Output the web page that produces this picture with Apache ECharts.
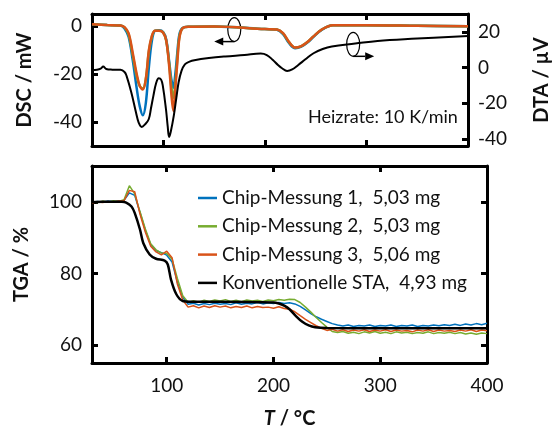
<!DOCTYPE html>
<html>
<head>
<meta charset="utf-8">
<script src="https://cdn.jsdelivr.net/npm/echarts@6/dist/echarts.min.js"></script>
<style>
html, body { margin: 0; padding: 0; background: #fff; }
#chart { width: 560px; height: 430px; }
</style>
</head>
<body>
<div id="chart"></div>
<script>
// series names (legend)
const names = ['Chip-Messung 1,  5,03 mg', 'Chip-Messung 2,  5,03 mg', 'Chip-Messung 3,  5,06 mg', 'Konventionelle STA,  4,93 mg']
const colors = ['#0072BD', '#77AC30', '#D95319', '#000000']

// axis ticks
const tempTicks = [100, 200, 300, 400]
const dscTicks = [-40, -20, 0]
const dtaTicks = [-40, -20, 0, 20]
const tgaTicks = [60, 80, 100]

// DSC of the chip measurements (mW)
const dscT = [30, 45, 58, 62, 66, 70, 74, 77, 80, 83, 86, 89, 92, 96, 100, 103, 106, 108, 110, 112, 114, 116, 119, 125, 150, 200, 212, 218, 224, 230, 236, 242, 248, 256, 267, 300, 350, 400]
const dsc1 = [0.7, 0.4, 0.2, -1, -4.5, -14, -26, -33.5, -37.2, -32, -17, -6, -2, -1.8, -2.5, -5.5, -15, -22, -25.8, -20, -11, -3.5, -0.8, -0.3, -0.2, -1.3, -1.6, -3.4, -7.2, -9.3, -8.6, -6.9, -4.5, -1.6, 0.3, 0.3, 0.1, -0.1]
const dsc2 = [0.7, 0.4, 0.2, -0.6, -3.5, -12, -21, -25, -26, -22, -10.5, -4.3, -2, -2, -2.7, -6, -16, -25, -30, -24, -13.5, -4.5, -1, -0.3, -0.2, -1.3, -1.5, -3.1, -6.8, -9.0, -8.4, -6.7, -4.3, -1.5, 0.3, 0.3, 0.1, -0.1]
const dsc3 = [0.7, 0.4, 0.2, -0.5, -3, -11, -20, -25, -26.5, -22, -10, -4, -2, -2, -2.8, -6, -17, -28, -35.4, -26, -15, -5, -1, -0.3, -0.2, -1.3, -1.5, -3.0, -6.7, -9.0, -8.4, -6.7, -4.3, -1.5, 0.3, 0.3, 0.1, -0.1]

// DTA of the conventional STA (µV)
const dtaT = [30, 35, 38.5, 41, 44, 50, 58, 62, 64, 68.7, 73.3, 76, 78.9, 82, 85.8, 88, 90.4, 93, 95.7, 98, 99.7, 102.8, 104.5, 105.9, 107.5, 110.5, 113, 115.2, 118, 121.4, 126, 130.7, 145, 161, 180, 196, 202, 208, 213, 217, 222, 227, 233, 240, 248, 257, 266, 289, 311, 350, 400]
const dtaV = [-1.5, -1.2, -0.6, 0.5, -0.8, -1.2, -1.3, -2.5, -4.7, -14, -25.2, -31, -33.3, -32, -29, -23, -15.9, -9, -6, -6.8, -10.3, -23.4, -33, -38.9, -36, -27, -17, -8.4, -2, 1.8, 3.3, 4.1, 5.3, 6.2, 7.0, 7.8, 7.0, 4.2, 1.4, -0.4, -1.9, -1.1, 1.4, 4.6, 8.0, 10.4, 11.8, 13.4, 14.9, 16.2, 17.7]

// TGA of the chip measurements (%)
const tgaT = [30, 35, 40, 45, 50, 55, 60, 65, 70, 75, 80, 85, 90, 95, 100, 105, 110, 115, 120, 125, 130, 135, 140, 145, 150, 155, 160, 165, 170, 175, 180, 185, 190, 195, 200, 205, 210, 215, 220, 225, 230, 235, 240, 245, 250, 255, 260, 265, 270, 275, 280, 285, 290, 295, 300, 305, 310, 315, 320, 325, 330, 335, 340, 345, 350, 355, 360, 365, 370, 375, 380, 385, 390, 395, 400]
const tga1 = [99.8, 100.1, 99.9, 100.2, 100.0, 100.3, 100.4, 102.5, 101.8, 97.0, 92.0, 88.0, 86.4, 85.8, 85.1, 83.2, 77.5, 73.4, 71.4, 71.7, 71.2, 71.6, 71.3, 71.7, 71.4, 71.6, 71.3, 71.8, 71.4, 71.7, 71.5, 71.9, 71.5, 71.8, 71.6, 71.9, 71.6, 71.8, 71.5, 70.8, 69.8, 68.8, 67.9, 67.2, 66.6, 66.0, 65.6, 65.3, 65.6, 65.2, 65.5, 65.3, 65.6, 65.2, 65.5, 65.3, 65.6, 65.2, 65.5, 65.3, 65.6, 65.2, 65.5, 65.3, 65.6, 65.4, 65.7, 65.5, 65.8, 65.5, 65.9, 65.6, 66.0, 65.7, 66.1]
const tga2 = [100.0, 99.8, 100.2, 99.9, 100.3, 100.1, 100.6, 104.5, 102.2, 97.2, 92.4, 88.3, 86.6, 85.7, 85.6, 84.0, 78.6, 73.8, 72.0, 72.4, 72.0, 72.5, 72.2, 72.6, 72.3, 72.7, 72.2, 72.5, 72.1, 72.6, 72.3, 72.5, 72.2, 72.6, 72.4, 72.7, 72.5, 72.8, 72.7, 71.9, 70.6, 69.2, 67.7, 66.3, 65.0, 63.8, 63.5, 63.8, 63.3, 63.6, 63.2, 63.7, 63.4, 63.8, 63.3, 63.6, 63.2, 63.7, 63.4, 63.6, 63.2, 63.5, 63.3, 63.7, 63.2, 63.5, 63.3, 63.6, 63.2, 63.5, 63.1, 63.4, 63.0, 63.4, 63.2]
const tga3 = [99.7, 100.0, 99.8, 100.1, 99.9, 100.2, 100.3, 103.2, 102.8, 96.5, 91.5, 87.6, 86.0, 85.2, 86.2, 84.4, 77.0, 72.6, 70.6, 71.0, 70.4, 70.9, 70.5, 71.0, 70.6, 70.9, 70.4, 70.8, 70.5, 70.9, 70.4, 70.8, 70.5, 70.6, 70.3, 70.7, 70.2, 70.0, 69.3, 68.2, 67.2, 66.3, 65.4, 64.7, 64.1, 64.4, 63.9, 64.3, 63.8, 64.2, 63.9, 64.3, 63.8, 64.2, 63.9, 64.3, 63.8, 64.2, 63.9, 64.1, 63.7, 64.2, 63.9, 64.3, 63.8, 64.2, 63.9, 64.1, 63.8, 64.2, 63.9, 64.3, 63.8, 64.2, 64.0]

// TGA of the conventional STA (%)
const stdT = [30, 40, 50, 58, 62, 67, 70, 75, 78, 84, 90, 98, 101, 104, 109, 115, 122, 150, 200, 205, 210, 215, 221, 227, 233, 239, 250, 300, 400]
const stdV = [99.9, 100, 100, 100, 99.8, 98.7, 96.9, 92.2, 88.5, 85.3, 84.1, 83.6, 82.5, 78.3, 74.2, 72.3, 72.1, 72.1, 71.9, 71.6, 71.0, 70.0, 68.1, 66.5, 65.5, 65.0, 64.8, 64.7, 64.7]

// annotation anchors: [T, value] on DSC and DTA axes
const dscMarker = [170, -1.5]
const dtaMarker = [287, 13]
const heatingText = 'Heizrate: 10 K/min'

const font = 'Lato'
const pairs = (xs, ys) => xs.map((x, i) => [x, ys[i]])

const axisLine = { show: true, onZero: false, lineStyle: { color: '#000', width: 3 } }
const ticks = (vals) => ({ show: true, inside: true, length: 6, customValues: vals, lineStyle: { color: '#000', width: 3 } })
const labels = (vals) => ({ show: true, customValues: vals, color: '#111', fontFamily: font, fontSize: 19, margin: 10 })
const nameStyle = { color: '#111', fontFamily: font, fontSize: 20, fontWeight: 'bold' }

function xAxis(grid, pos, withLabels) {
  return {
    type: 'value', gridIndex: grid, position: pos, min: 30, max: 400,
    axisLine: axisLine, axisTick: ticks(tempTicks), splitLine: { show: false },
    axisLabel: withLabels ? Object.assign(labels(tempTicks), { margin: 13 }) : { show: false }
  }
}
function yAxis(grid, pos, min, max, tickVals, withLabels) {
  return {
    type: 'value', gridIndex: grid, position: pos, min: min, max: max,
    axisLine: axisLine, axisTick: ticks(tickVals), splitLine: { show: false },
    axisLabel: withLabels ? labels(tickVals) : { show: false }
  }
}

const xAxes = [xAxis(0, 'bottom', false), xAxis(0, 'top', false), xAxis(1, 'bottom', true), xAxis(1, 'top', false)]
Object.assign(xAxes[2], {
  name: '{i|T} / °C', nameLocation: 'middle', nameGap: 46,
  nameTextStyle: Object.assign({}, nameStyle, { rich: { i: Object.assign({}, nameStyle, { fontStyle: 'italic' }) } })
})
const yAxes = [
  Object.assign(yAxis(0, 'left', -50, 5, dscTicks, true), { name: 'DSC / mW', nameLocation: 'middle', nameGap: 57, nameTextStyle: nameStyle }),
  Object.assign(yAxis(0, 'right', -44, 30, dtaTicks, true), { name: 'DTA / µV', nameLocation: 'middle', nameGap: 64, nameTextStyle: nameStyle }),
  Object.assign(yAxis(1, 'left', 55, 110, tgaTicks, true), { name: 'TGA / %', nameLocation: 'middle', nameGap: 60, nameTextStyle: nameStyle }),
  yAxis(1, 'right', 55, 110, tgaTicks, false)
]

function line(name, color, data, xi, yi, width, smooth) {
  return {
    name: name, type: 'line', xAxisIndex: xi, yAxisIndex: yi, data: data,
    symbol: 'none', smooth: smooth, color: color,
    lineStyle: { color: color, width: width }
  }
}

const series = [
  line(names[0], colors[0], pairs(dscT, dsc1), 0, 0, 2.5, 0.35),
  line(names[1], colors[1], pairs(dscT, dsc2), 0, 0, 2.5, 0.35),
  line(names[2], colors[2], pairs(dscT, dsc3), 0, 0, 2.5, 0.35),
  line(names[3], colors[3], pairs(dtaT, dtaV), 0, 1, 2, 0.4),
  line(names[0], colors[0], pairs(tgaT, tga1), 2, 2, 1.5, false),
  line(names[1], colors[1], pairs(tgaT, tga2), 2, 2, 1.5, false),
  line(names[2], colors[2], pairs(tgaT, tga3), 2, 2, 1.5, false),
  line(names[3], colors[3], pairs(stdT, stdV), 2, 2, 2.5, 0.3)
]

const chart = echarts.init(document.getElementById('chart'))
chart.setOption({
  animation: false,
  backgroundColor: '#fff',
  grid: [
    { left: 92, right: 73, top: 14, height: 132 },
    { left: 92, right: 73, top: 166, height: 198 }
  ],
  xAxis: xAxes,
  yAxis: yAxes,
  legend: {
    data: names.map((n, i) => ({ name: n, itemStyle: { color: colors[i] } })),
    orient: 'vertical', left: 193, top: 183, icon: 'rect',
    itemWidth: 19, itemHeight: 2.5, itemGap: 8.3, selectedMode: false,
    textStyle: { color: '#111', fontFamily: font, fontSize: 19, lineHeight: 20 }
  },
  series: series
})

// annotation graphics anchored on data coordinates
const a = chart.convertToPixel({ xAxisIndex: 0, yAxisIndex: 0 }, dscMarker)
const b = chart.convertToPixel({ xAxisIndex: 0, yAxisIndex: 1 }, dtaMarker)
const rx = 6.5, ry = 12
const st = { stroke: '#000', fill: null, lineWidth: 1.2 }
chart.setOption({
  graphic: [
    { type: 'ellipse', shape: { cx: a[0], cy: a[1], rx: rx, ry: ry }, style: st },
    { type: 'line', shape: { x1: a[0], y1: a[1] + ry, x2: a[0] - 12, y2: a[1] + ry }, style: { stroke: '#000', lineWidth: 1.5 } },
    { type: 'polygon', shape: { points: [[a[0] - 20, a[1] + ry], [a[0] - 11, a[1] + ry - 4], [a[0] - 11, a[1] + ry + 4]] }, style: { fill: '#000' } },
    { type: 'ellipse', shape: { cx: b[0], cy: b[1], rx: rx, ry: ry }, style: st },
    { type: 'line', shape: { x1: b[0], y1: b[1] + ry, x2: b[0] + 12, y2: b[1] + ry }, style: { stroke: '#000', lineWidth: 1.5 } },
    { type: 'polygon', shape: { points: [[b[0] + 21, b[1] + ry], [b[0] + 12, b[1] + ry - 4], [b[0] + 12, b[1] + ry + 4]] }, style: { fill: '#000' } },
    { type: 'text', left: 308, top: 108, style: { text: heatingText, fill: '#111', font: '18px Lato' } }
  ]
})
</script>
</body>
</html>
